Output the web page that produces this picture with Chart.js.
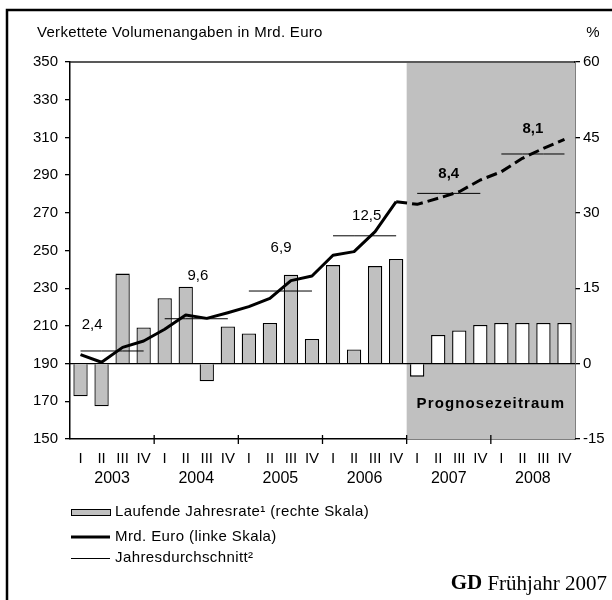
<!DOCTYPE html>
<html><head><meta charset="utf-8">
<script src="https://cdn.jsdelivr.net/npm/chart.js@4.4.0/dist/chart.umd.min.js"></script>
<style>html,body{margin:0;padding:0;background:#fff}#wrap{width:612px;height:600px;position:relative}</style>
</head><body><div id="wrap"><canvas id="c" width="612" height="600"></canvas></div>
<script>
// ---- data ----
const years = ['2003','2004','2005','2006','2007','2008'];
const quarters = ['I','II','III','IV'];
const rate = [-6.5,-8.5,17.9,7.2, 13.0,15.3,-3.5,7.4, 6.0,8.1,17.7,4.9, 19.6,2.8,19.4,20.8, -2.6,5.7,6.6,7.7, 8.1,8.1,8.1,8.1];
const mrdEuro = [194.8,190.7,198.6,202.0, 208.2,215.8,214.0,217.0, 220.2,224.6,234.0,236.5, 247.5,249.4,260.0,275.9, 274.5,277.7,281.2,287.4, 291.8,298.9,304.2,309.0];
const annualAvg = [196.7,213.8,228.5,257.8,280.3,301.2];
const annualRateLabels = ['2,4','9,6','6,9','12,5','8,4','8,1'];
const leftTicks = {min:150, max:350, step:20};
const rightTicks = {min:-15, max:60, step:15};
const forecastStart = 16;
const legendLabels = ['Laufende Jahresrate\u00b9 (rechte Skala)','Mrd. Euro (linke Skala)','Jahresdurchschnitt\u00b2'];

const categories = years.flatMap(() => quarters);
const avgSeries = annualAvg.flatMap(v => [v,v,v,v]);

const SANS = '"Liberation Sans", Arial, sans-serif';
const NARROW = '"Liberation Sans Narrow", "Liberation Sans", Arial, sans-serif';
const GRAY = '#c0c0c0';

const deco = {
  id:'deco',
  beforeDatasetsDraw(chart){
    const {ctx, chartArea:a, scales:{x,y2}} = chart;
    const step = x.getPixelForValue(1)-x.getPixelForValue(0);
    const fx = x.getPixelForValue(forecastStart) - step/2;
    ctx.save();
    ctx.fillStyle = GRAY;
    ctx.fillRect(fx, a.top+1, a.right-fx, a.bottom-a.top-1);
    const z = y2.getPixelForValue(0);
    ctx.strokeStyle = '#000'; ctx.lineWidth = 1.3;
    ctx.beginPath(); ctx.moveTo(a.left, z); ctx.lineTo(a.right, z); ctx.stroke();
    ctx.restore();
  },
  afterDraw(chart, args, opts){
    const {ctx, chartArea:a, scales:{x,y,y2}} = chart;
    const step = x.getPixelForValue(1)-x.getPixelForValue(0);
    const px = i => x.getPixelForValue(0) + i*step;
    ctx.save();
    ctx.strokeStyle = '#222'; ctx.lineWidth = 1.5;
    ctx.beginPath(); ctx.moveTo(a.left, a.top); ctx.lineTo(a.right, a.top); ctx.stroke();
    ctx.strokeStyle = '#000'; ctx.lineWidth = 1.3;
    for (let k=1;k<years.length;k++){
      const xx = px(4*k-0.5);
      ctx.beginPath(); ctx.moveTo(xx, a.bottom-4); ctx.lineTo(xx, a.bottom+5); ctx.stroke();
    }
    ctx.lineWidth = 2.5; ctx.strokeStyle = '#000';
    ctx.beginPath(); ctx.moveTo(7, 600); ctx.lineTo(7, 10); ctx.lineTo(612, 10); ctx.stroke();
    ctx.fillStyle = '#000';
    ctx.font = '15px '+SANS; ctx.textBaseline = 'middle';
    ctx.letterSpacing = '0.3px';
    ctx.textAlign = 'left'; ctx.fillText('Verkettete Volumenangaben in Mrd. Euro', 37, 33);
    ctx.textAlign = 'right'; ctx.fillText('%', 600, 33);
    ctx.letterSpacing = '0px';
    ctx.textAlign = 'center';
    annualRateLabels.forEach((t,k)=>{
      const [ix, v] = opts.anchors[k];
      ctx.font = (k>=4 ? 'bold ' : '') + '15px ' + SANS;
      ctx.fillText(t, px(ix), y.getPixelForValue(v));
    });
    const fx = px(forecastStart-0.5);
    ctx.font = 'bold 15px '+SANS;
    ctx.letterSpacing = '1.1px';
    ctx.fillText('Prognosezeitraum', (fx+a.right)/2, y2.getPixelForValue(-8));
    ctx.letterSpacing = '0px';
    const lx = 71, lw = 39, tx = 115;
    const ly = [512, 537, 558];
    ctx.fillStyle = GRAY; ctx.strokeStyle = '#000'; ctx.lineWidth = 1;
    ctx.fillRect(lx, ly[0]-3, lw, 6); ctx.strokeRect(lx+0.5, ly[0]-3+0.5, lw, 6);
    ctx.lineWidth = 3; ctx.beginPath(); ctx.moveTo(lx, ly[1]); ctx.lineTo(lx+lw, ly[1]); ctx.stroke();
    ctx.lineWidth = 1; ctx.beginPath(); ctx.moveTo(lx, ly[2]+0.5); ctx.lineTo(lx+lw, ly[2]+0.5); ctx.stroke();
    ctx.fillStyle = '#000'; ctx.font = '15px '+SANS; ctx.textAlign = 'left';
    ctx.letterSpacing = '0.4px';
    legendLabels.forEach((t,i)=>ctx.fillText(t, tx, ly[i]));
    ctx.letterSpacing = '0px';
    ctx.textAlign = 'right';
    ctx.font = '21px "Liberation Serif", "Times New Roman", serif';
    const rest = ' Frühjahr 2007';
    const wRest = ctx.measureText(rest).width;
    ctx.fillText(rest, 607, 584);
    ctx.font = 'bold 21px "Liberation Serif", "Times New Roman", serif';
    ctx.fillText('GD', 607 - wRest, 584);
    ctx.restore();
  }
};

new Chart(document.getElementById('c'), {
  data: {
    labels: categories,
    datasets: [
      {type:'line', label:'Mrd. Euro (linke Skala)', data: mrdEuro, yAxisID:'y', order:0,
       borderColor:'#000', borderWidth:3, pointRadius:0, tension:0, borderJoinStyle:'round',
       segment:{borderDash: c => c.p0DataIndex >= forecastStart-1 ? [11,5] : undefined}},
      {type:'line', label:'Jahresdurchschnitt\u00b2', data: avgSeries, yAxisID:'y', order:1,
       borderColor:'#000', borderWidth:1, pointRadius:0, tension:0,
       segment:{borderColor: c => (c.p0DataIndex % 4 === 3) ? 'rgba(0,0,0,0)' : '#000'}},
      {type:'bar', label:'Laufende Jahresrate\u00b9 (rechte Skala)', data: rate, yAxisID:'y2', order:2,
       backgroundColor: rate.map((v,i)=> i>=forecastStart ? '#ffffff' : GRAY),
       borderColor:'#000', borderWidth:1.3, categoryPercentage:1, barPercentage:0.68}
    ]
  },
  options: {
    responsive:false, animation:false, devicePixelRatio:1,
    layout:{padding:{top:62, left:0, right:0, bottom:111}},
    plugins:{legend:{display:false}, tooltip:{enabled:false},
      deco:{anchors:[[0.55,210.5],[5.58,236.6],[9.53,251.5],[13.6,268.5],[17.5,290.7],[21.5,314.6]]}},
    scales:{
      x:{type:'category', position:'bottom', offset:true,
         grid:{display:false, drawTicks:false},
         border:{display:true, color:'#000', width:1.5},
         ticks:{color:'#000', font:{family:NARROW, size:15}, padding:11, maxRotation:0, autoSkip:false},
         afterFit: s => { s.height = 28; }},
      x2:{type:'category', position:'bottom', labels: years, offset:true,
         grid:{display:false, drawTicks:false}, border:{display:false},
         ticks:{color:'#000', font:{family:NARROW, size:16}, padding:2, maxRotation:0, autoSkip:false},
         afterFit: s => { s.height = 22; }},
      y:{position:'left', min:leftTicks.min, max:leftTicks.max,
         ticks:{stepSize:leftTicks.step, color:'#000', font:{family:SANS, size:15}, padding:7},
         grid:{drawOnChartArea:false, drawTicks:true, tickLength:5, color:'#000', lineWidth:1.3},
         border:{color:'#000', width:1.5},
         afterFit: s => { s.width = 70; }},
      y2:{position:'right', min:rightTicks.min, max:rightTicks.max,
         ticks:{stepSize:rightTicks.step, color:'#000', font:{family:SANS, size:15}, padding:3},
         grid:{drawOnChartArea:false, drawTicks:true, tickLength:5, color:'#000', lineWidth:1.3},
         border:{color:'#000', width:1.5},
         afterFit: s => { s.width = 37; }}
    }
  },
  plugins:[deco]
});
</script></body></html>
